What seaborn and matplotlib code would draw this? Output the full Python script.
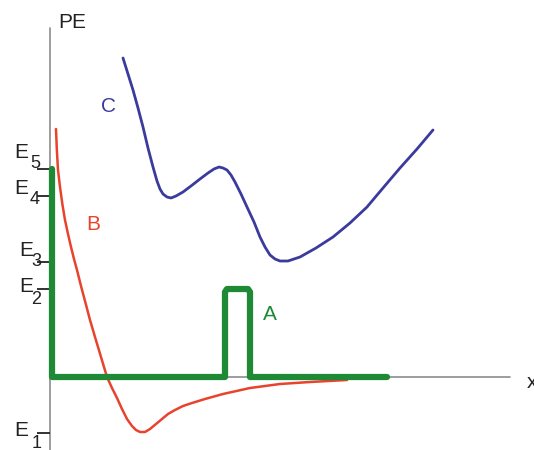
import matplotlib
matplotlib.use('Agg')
import matplotlib.pyplot as plt
import seaborn as sns

# potential energy curves, x and PE in arbitrary units (origin at the axes crossing)
a_x = [2, 2, 175, 175, 177, 198, 200, 200, 337]
a_pe = [208, 0, 0, 85, 88, 88, 85, 0, 0]

b_x = [6, 6.8, 8, 10, 12.5, 15, 18, 21, 24, 27, 31, 35, 40, 45, 51, 57, 62, 67, 72, 77,
       82, 86, 90, 95, 100, 106, 112, 118, 125, 133, 142, 155, 173, 200, 230, 260, 297]
b_pe = [248, 228, 207, 190, 172, 157, 143, 130, 118, 107, 91, 76, 57, 40, 20, 0, -11, -21, -32, -42,
        -49, -53, -55, -55, -52, -47, -42, -37, -33, -29, -26, -22, -17, -11, -7, -5, -3]

c_x = [73, 78, 83, 88, 93, 98, 103, 107, 110, 113, 117, 121, 126, 133, 141, 150, 158, 164, 169, 173,
       177, 181, 185, 191, 197, 204, 210, 215, 220, 225, 230, 238, 250, 266, 283, 300, 317, 333, 350,
       367, 383]
c_pe = [319, 303, 287, 269, 250, 229, 210, 196, 188, 183, 180, 179, 181, 185, 191, 198, 204, 208, 210, 209,
        207, 202, 195, 183, 170, 155, 140, 130, 122, 118, 116, 116, 120, 129, 140, 154, 170, 189, 209,
        228, 247]

levels = ['5', '4', '3', '2', '1']
level_pe = [208, 181, 115, 88, -56]

sns.set_style('white')
plt.rcParams['font.family'] = ['Liberation Sans', 'DejaVu Sans']

fig = plt.figure(figsize=(5.34, 4.5), dpi=100, facecolor='white')
ax = fig.add_axes([6 / 534, 0, 528 / 534, 441 / 450])
ax.set_facecolor('#e3f1fb')
ax.set_xlim(-44, 484)
ax.set_ylim(-73, 368)
ax.axis('off')

# axes
gray = '#8c8c8c'
ax.plot([0, 0], [-73, 349], color=gray, lw=1.2, zorder=1)
ax.plot([0, 460], [0, 0], color=gray, lw=1.2, zorder=1)
ax.text(8, 355, 'PE', fontsize=15, va='center', ha='left', color='#222222')
ax.text(477, -5, 'x', fontsize=15, va='center', ha='left', color='#222222')

# energy levels
ax.hlines(level_pe, -13, 0, color='#222222', lw=1.3, zorder=2)
e_pos = [(-29, 225), (-29, 188), (-24, 127), (-24, 90), (-29, -53)]
d_pos = [(-15, 214), (-15, 177), (-14, 116), (-14, 77), (-13, -67)]
for lab, (ex, ey), (dx, dy) in zip(levels, e_pos, d_pos):
    ax.text(ex, ey, 'E', fontsize=15, ha='center', va='center', color='#222222')
    ax.text(dx, dy, lab, fontsize=13, ha='center', va='center', color='#222222')

green = '#1f8a36'
red = '#e8432d'
blue = '#3b3b9e'
sns.lineplot(x=a_x, y=a_pe, sort=False, estimator=None, color=green, lw=4.5, ax=ax, zorder=4,
             solid_joinstyle='round')
sns.lineplot(x=b_x, y=b_pe, sort=False, estimator=None, color=red, lw=1.8, ax=ax, zorder=3,
             solid_joinstyle='round')
sns.lineplot(x=c_x, y=c_pe, sort=False, estimator=None, color=blue, lw=2, ax=ax, zorder=3,
             solid_joinstyle='round')

ax.text(58, 270, 'C', fontsize=15, color=blue, ha='center', va='center')
ax.text(43, 153, 'B', fontsize=15, color=red, ha='center', va='center')
ax.text(220, 62, 'A', fontsize=15, color=green, ha='center', va='center')

fig.savefig('out.png', dpi=100, facecolor='white')
